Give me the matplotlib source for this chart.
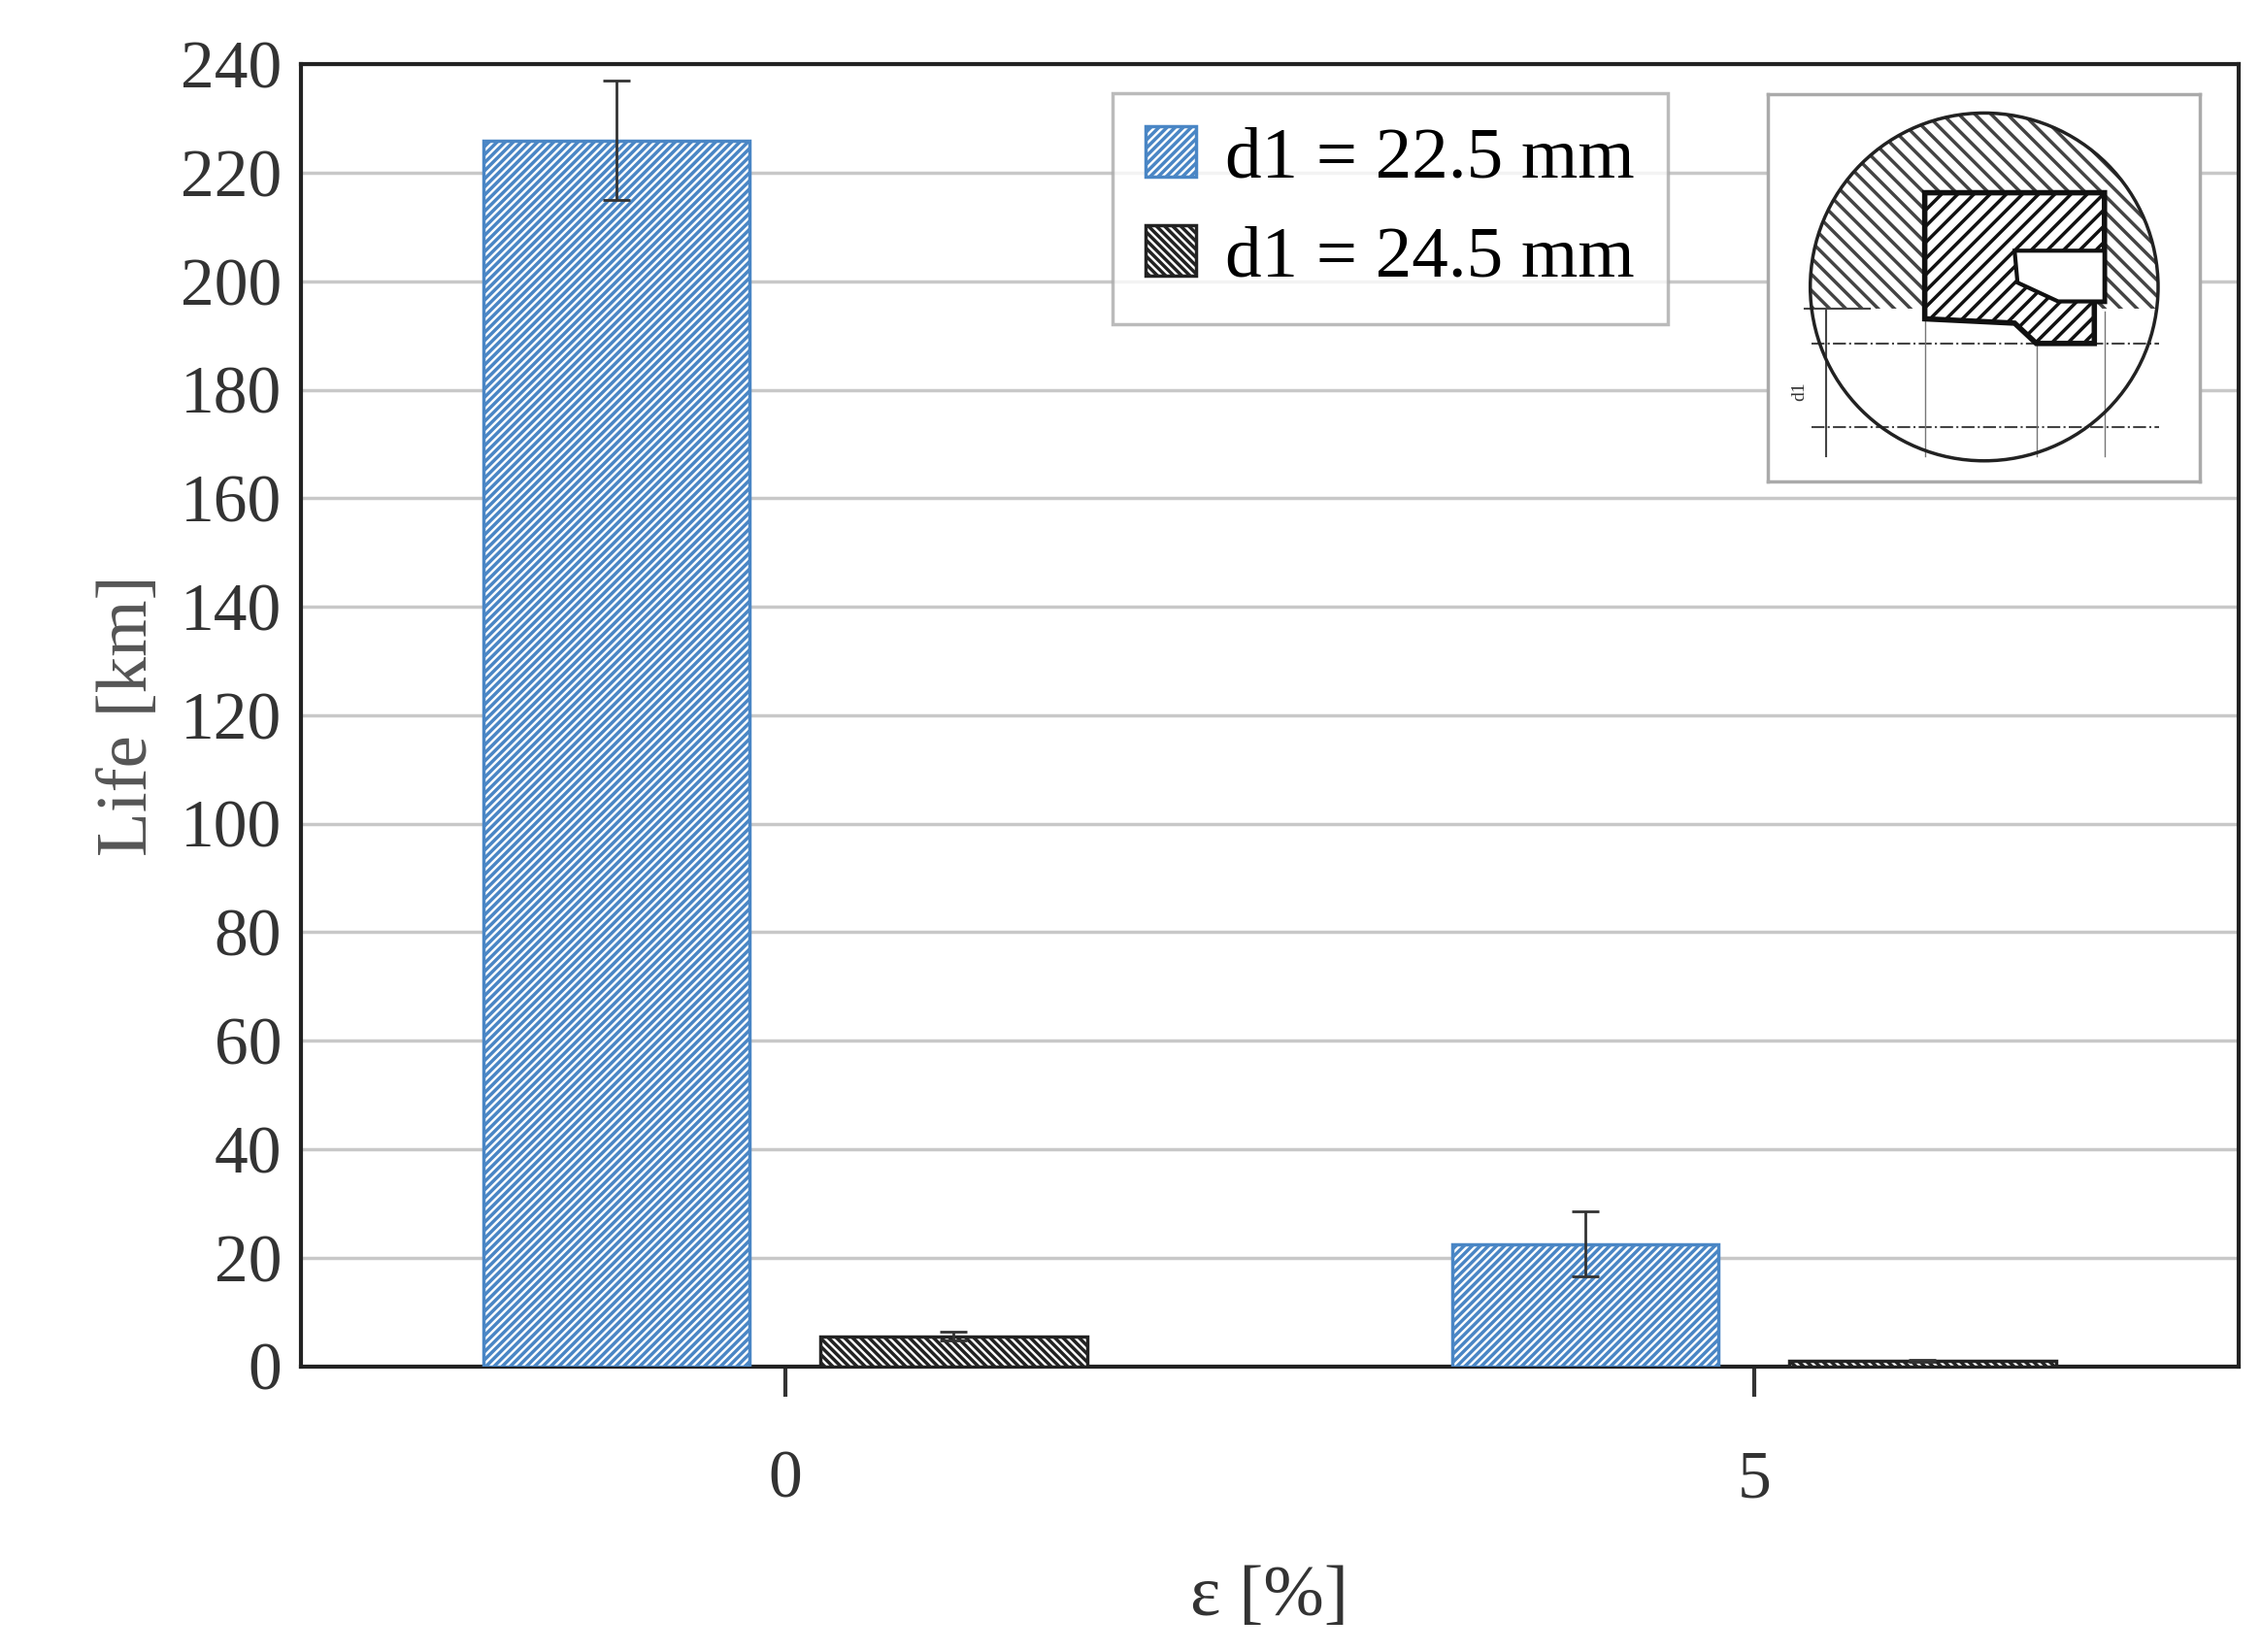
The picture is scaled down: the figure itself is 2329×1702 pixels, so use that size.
import numpy as np
import matplotlib.pyplot as plt
from matplotlib import patches

plt.rcParams['font.family'] = ['Liberation Serif', 'DejaVu Serif']
plt.rcParams['hatch.linewidth'] = 2.5

categories = ["0", "5"]
life_225 = [226, 22.5]
err_225 = [11, 6]
life_245 = [5.5, 1]
err_245 = [0.8, 0.2]
labels = ["d1 = 22.5 mm", "d1 = 24.5 mm"]

fig = plt.figure(figsize=(23.29, 17.02), dpi=100)
ax = fig.add_axes([0.133, 0.173, 0.857, 0.788])

x = np.arange(len(categories))
w = 0.275
blue = "#4a86c5"
ax.bar(x - 0.174, life_225, w, facecolor="white", edgecolor=blue, hatch="////",
       linewidth=2.5, yerr=err_225, capsize=10, error_kw=dict(ecolor="#333333", elinewidth=2, capthick=2),
       label=labels[0], zorder=3)
ax.bar(x + 0.174, life_245, w, facecolor="white", edgecolor="#222222", hatch="\\\\\\\\",
       linewidth=2.5, yerr=err_245, capsize=10, error_kw=dict(ecolor="#333333", elinewidth=2, capthick=2),
       label=labels[1], zorder=3)

ax.set_xlim(-0.5, 1.5)
ax.set_ylim(0, 240)
ax.set_yticks(range(0, 241, 20))
ax.set_xticks(x)
ax.set_xticklabels(categories)
ax.yaxis.grid(True, color="#c8c8c8", linewidth=2.5, zorder=0)
ax.set_axisbelow(True)
for s in ax.spines.values():
    s.set_linewidth(3)
    s.set_color("#222222")
ax.tick_params(axis="y", length=0, labelsize=50, colors="#333333", pad=14)
ax.tick_params(axis="x", length=22, width=3, labelsize=50, colors="#333333", pad=40)
ax.set_ylabel("Life [km]", fontsize=54, color="#555555", labelpad=14)
ax.set_xlabel("ε [%]", fontsize=54, color="#333333", labelpad=40)

leg = ax.legend(loc="upper left", bbox_to_anchor=(0.419, 0.978), fontsize=54, frameon=True,
                fancybox=False, edgecolor="#aaaaaa", handlelength=0.7, handleheight=0.7,
                borderpad=0.45, labelspacing=0.45, handletextpad=0.4, borderaxespad=0)
leg.get_frame().set_linewidth(2.5)

# inset drawing of seal
ins = fig.add_axes([1220 / 1560, 1 - 332 / 1140, 298 / 1560, 267 / 1140])
ins.set_xlim(0, 298)
ins.set_ylim(267, 0)
ins.set_xticks([])
ins.set_yticks([])
for s in ins.spines.values():
    s.set_color("#aaaaaa")
    s.set_linewidth(2.5)
cx, cy, r = 149, 133, 120
circ = patches.Circle((cx, cy), r, facecolor="none", edgecolor="#222222", linewidth=2.5, zorder=5)
ins.add_patch(circ)
housing = patches.Rectangle((20, 10), 270, 138, facecolor="white", edgecolor="#444444",
                            linewidth=0, hatch="\\\\")
ins.add_patch(housing)
housing.set_clip_path(circ)
seal = patches.Polygon([(108, 68), (232, 68), (232, 143), (225, 143), (225, 172), (185, 172),
                        (170, 158), (108, 155)], closed=True, facecolor="white",
                       edgecolor="#111111", linewidth=4, hatch="//", zorder=3)
ins.add_patch(seal)
groove = patches.Polygon([(170, 108), (232, 108), (232, 143), (200, 143), (172, 130)],
                         closed=True, facecolor="white", edgecolor="#111111", linewidth=3, zorder=4)
ins.add_patch(groove)
for yy in [172, 230]:
    ins.plot([30, 270], [yy, yy], color="#444444", linestyle="-.", linewidth=1.5)
for xx in [108, 185, 232]:
    ins.plot([xx, xx], [150, 250], color="#777777", linewidth=1)
ins.plot([40, 40], [148, 250], color="#444444", linewidth=1.5)
ins.plot([25, 70], [148, 148], color="#444444", linewidth=1.5)
ins.text(22, 205, "d1", rotation=90, fontsize=14, ha="center", va="center", color="#333333")

fig.savefig("out.png", dpi=100)
